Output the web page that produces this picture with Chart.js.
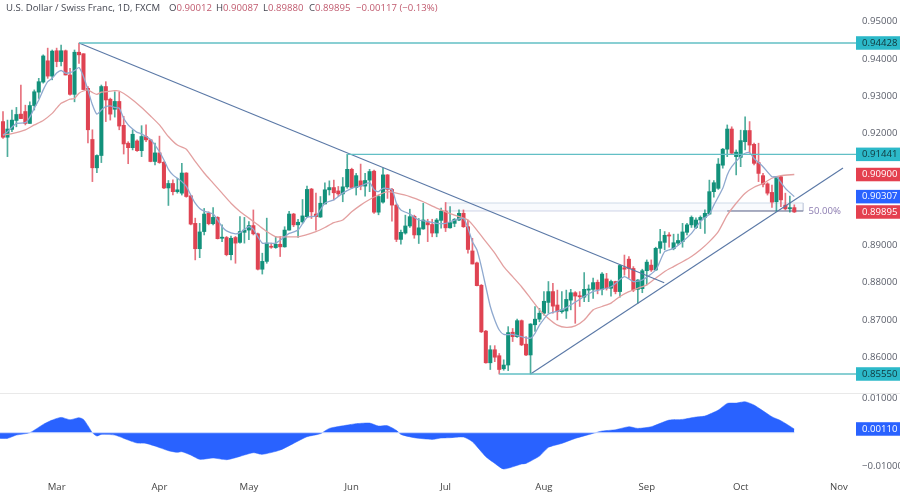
<!DOCTYPE html>
<html>
<head>
<meta charset="utf-8">
<style>
  html, body { margin: 0; background: #fff; overflow: hidden; }
  #wrap { position: relative; width: 900px; height: 496px; font-family: "Open Sans", sans-serif; }
  canvas { position: absolute; left: 0; }
  #priceChart { top: 0; }
  #oscChart { top: 393px; }
  #sep { position: absolute; left: 0; top: 393px; width: 900px; height: 1px; background: #e9e9e9; }
  .hdr { position: absolute; top: 1px; font-size: 9.6px; line-height: 14px; color: #434651; white-space: nowrap; }
  .hdr b { font-weight: 400; color: #c05a6e; }
</style>
</head>
<body>
<div id="wrap">
  <canvas id="priceChart" width="900" height="393"></canvas>
  <canvas id="oscChart" width="900" height="103"></canvas>
  <div id="sep"></div>
  <div class="hdr" style="left:6px">U.S. Dollar / Swiss Franc, 1D, FXCM</div>
  <div class="hdr" style="left:169px">O<b>0.90012</b></div>
  <div class="hdr" style="left:216px">H<b>0.90087</b></div>
  <div class="hdr" style="left:263px">L<b>0.89880</b></div>
  <div class="hdr" style="left:309px">C<b>0.89895</b></div>
  <div class="hdr" style="left:356px"><b>−0.00117 (−0.13%)</b></div>
</div>
<script src="https://cdn.jsdelivr.net/npm/chart.js@4/dist/chart.umd.min.js"></script>
<script>
const opens = [
  .9232,.9190,.9211,.9235,.9252,.9259,.9227,.9275,.9311,.9338,
  .9395,.9354,.9422,.9393,.9422,.9357,.9305,.9418,.9414,.9321,
  .9184,.9108,.9141,.9326,.9292,.9265,.9286,.9222,.9174,.9162,
  .9180,.9154,.9192,.9183,.9125,.9148,.9123,.9054,.9066,.9044,
  .9040,.9094,.9033,.8959,.8891,.8937,.8986,.8958,.8975,.8919,
  .8921,.8875,.8921,.8908,.8935,.8941,.8953,.8931,.8836,.8857,
  .8897,.8894,.8903,.8896,.8941,.8984,.8955,.8963,.8977,.9051,
  .8984,.8976,.9011,.9049,.9055,.9046,.9038,.9057,.9104,.9055,
  .9073,.9059,.9075,.9099,.8989,.9016,.9089,.9050,.9008,.8916,
  .8933,.8952,.8978,.8928,.8944,.8961,.8956,.8933,.8967,.8992,
  .8947,.8959,.8968,.8986,.8950,.8885,.8853,.8793,.8670,.8585,
  .8620,.8604,.8569,.8579,.8667,.8655,.8698,.8635,.8606,.8687,
  .8702,.8718,.8747,.8776,.8740,.8722,.8724,.8753,.8773,.8765,
  .8761,.8780,.8782,.8801,.8782,.8810,.8785,.8803,.8776,.8840,
  .8863,.8838,.8782,.8784,.8832,.8847,.8834,.8892,.8908,.8928,
  .8891,.8906,.8910,.8935,.8955,.8948,.8968,.8975,.8984,.9044,
  .9053,.9115,.9158,.9212,.9138,.9136,.9178,.9208,.9171,.9122,
  .9087,.9065,.9042,.9017,.9084,.9008,.8998,.90012
];
const highs = [
  .9259,.9236,.9263,.9270,.9330,.9276,.9285,.9317,.9348,.9411,
  .9429,.9424,.9429,.9437,.9424,.9375,.9424,.94428,.9414,.9326,
  .9210,.9143,.9330,.9339,.9295,.9312,.9312,.9246,.9178,.9210,
  .9183,.9221,.9223,.9183,.9174,.9193,.9125,.9074,.9076,.9080,
  .9120,.9095,.9033,.8973,.8959,.8999,.8990,.9001,.8977,.8955,
  .8924,.8925,.8924,.8977,.8975,.8964,.8995,.8933,.8879,.8973,
  .8906,.8924,.8924,.8950,.8991,.8986,.8970,.9023,.9059,.9053,
  .9040,.9031,.9068,.9073,.9075,.9058,.9082,.91441,.9107,.9093,
  .9118,.9093,.9104,.9102,.9035,.9107,.9090,.9053,.9011,.8941,
  .8981,.8997,.8981,.8972,.9013,.8970,.8970,.8972,.9000,.9015,
  .9004,.8972,.8995,.8995,.8968,.8919,.8855,.8795,.8672,.8631,
  .8631,.8610,.8593,.8682,.8677,.8702,.8700,.8655,.8690,.8736,
  .8731,.8776,.8803,.8798,.8780,.8776,.8780,.8782,.8776,.8776,
  .8827,.8794,.8812,.8807,.8827,.8825,.8807,.8804,.8847,.8874,
  .8870,.8843,.8808,.8836,.8861,.8861,.8895,.8943,.8937,.8934,
  .8930,.8930,.8959,.8959,.8979,.8974,.8979,.8995,.9075,.9074,
  .9133,.9160,.9223,.9218,.9156,.9209,.9245,.9232,.9174,.9174,
  .9093,.9068,.9062,.9084,.9086,.9040,.9032,.90087
];
const lows = [
  .9187,.9138,.9205,.9218,.9240,.9223,.9227,.9263,.9294,.9335,
  .9348,.9344,.9379,.9381,.9357,.9303,.9285,.9388,.9317,.9175,
  .9071,.9095,.9122,.9232,.9236,.9244,.9210,.9145,.9119,.9156,
  .9152,.9138,.9178,.9124,.9116,.9120,.9052,.9007,.9035,.9040,
  .9035,.9029,.8955,.8861,.8867,.8928,.8955,.8955,.8917,.8910,
  .8872,.8861,.8852,.8906,.8906,.8915,.8928,.8834,.8823,.8852,
  .8892,.8892,.8870,.8895,.8941,.8950,.8921,.8959,.8975,.8972,
  .8941,.8975,.9011,.9035,.9022,.9031,.9017,.9053,.9052,.9035,
  .9049,.9032,.9044,.8986,.8982,.9013,.9026,.8965,.8910,.8903,
  .8930,.8948,.8919,.8905,.8943,.8910,.8923,.8923,.8946,.8937,
  .8946,.8950,.8966,.8948,.8879,.8850,.8791,.8666,.8584,.8567,
  .8588,.8555,.8565,.8564,.8642,.8653,.8631,.8604,.8555,.8669,
  .8695,.8713,.8718,.8718,.8700,.8718,.8704,.8727,.8691,.8736,
  .8749,.8749,.8758,.8770,.8767,.8780,.8764,.8770,.8761,.8820,
  .8812,.8776,.8745,.8773,.8794,.8830,.8832,.8879,.8888,.8895,
  .8888,.8901,.8895,.8928,.8948,.8945,.8945,.8932,.8982,.9029,
  .9050,.9107,.9138,.9144,.9089,.9111,.9156,.9147,.9116,.9071,
  .9057,.9035,.9002,.8991,.9004,.8995,.8989,.8988
];
const closes = [
  .9190,.9212,.9236,.9251,.9240,.9227,.9275,.9312,.9339,.9408,
  .9354,.9421,.9393,.9422,.9357,.9305,.9418,.9411,.9318,.9210,
  .9108,.9141,.9326,.9290,.9252,.9286,.9220,.9172,.9162,.9198,
  .9154,.9192,.9183,.9125,.9148,.9122,.9054,.9066,.9044,.9049,
  .9094,.9031,.8957,.8891,.8936,.8984,.8958,.8975,.8918,.8922,
  .8875,.8919,.8906,.8937,.8941,.8953,.8931,.8836,.8857,.8906,
  .8895,.8903,.8896,.8941,.8984,.8955,.8962,.8979,.9050,.8990,
  .8977,.9013,.9049,.9055,.9041,.9038,.9057,.9104,.9055,.9087,
  .9059,.9074,.9098,.8989,.9031,.9089,.9050,.9008,.8916,.8935,
  .8952,.8977,.8928,.8947,.8968,.8955,.8933,.8968,.8992,.8947,
  .8961,.8970,.8986,.8950,.8889,.8850,.8792,.8668,.8585,.8620,
  .8600,.8567,.8579,.8666,.8655,.8698,.8633,.8606,.8689,.8702,
  .8718,.8750,.8776,.8737,.8722,.8727,.8755,.8773,.8764,.8762,
  .8782,.8783,.8800,.8782,.8823,.8785,.8803,.8776,.8846,.8836,
  .8838,.8780,.8807,.8832,.8855,.8834,.8892,.8910,.8927,.8925,
  .8907,.8913,.8936,.8955,.8975,.8968,.8975,.8986,.9044,.9068,
  .9118,.9158,.9212,.9147,.9150,.9181,.9208,.9169,.9120,.9093,
  .9064,.9040,.9016,.9084,.9022,.8998,.90012,.89895
];

// moving averages, read at the bars listed
const fastBars = [0,1,3,5,6,7,8,9,10,11,12,13,14,15,16,17,18,19,20,21,22,23,24,25,26,27,28,29,30,31,32,33,34,35,36,37,38,39,40,41,42,43,44,45,47,48,49,50,52,53,55,56,57,58,59,61,63,64,66,68,70,72,74,76,78,80,82,83,84,85,87,88,89,91,93,95,97,99,101,103,104,105,106,107,108,109,110,111,112,114,116,118,119,120,122,125,127,130,132,136,139,141,143,146,148,150,152,154,156,158,159,161,162,163,165,166,167,168,170,172,173,175,177];
const fastValues = [.9196,.9205,.9227,.9229,.9244,.9268,.9290,.9317,.9339,.9348,.9362,.9369,.9362,.9363,.9369,.9377,.9353,.9317,.9277,.9252,.9263,.9272,.9274,.9270,.9268,.9241,.9223,.9212,.9203,.9199,.9192,.9184,.9169,.9151,.9129,.9104,.9089,.9080,.9071,.9058,.9035,.9013,.8999,.8992,.8984,.8968,.8950,.8939,.8931,.8934,.8950,.8943,.8923,.8906,.8906,.8906,.8923,.8932,.8941,.8975,.8979,.9013,.9022,.9040,.9053,.9059,.9068,.9049,.9044,.9053,.9049,.9013,.8995,.8984,.8968,.8964,.8959,.8959,.8968,.8972,.8946,.8910,.8888,.8843,.8789,.8736,.8700,.8673,.8661,.8661,.8655,.8651,.8664,.8686,.8716,.8727,.8740,.8763,.8776,.8789,.8816,.8803,.8807,.8834,.8883,.8892,.8910,.8932,.8964,.8984,.9008,.9053,.9089,.9111,.9138,.9147,.9149,.9133,.9111,.9084,.9084,.9053,.90307];
const slowBars = [0,2,5,7,9,11,12,13,14,15,16,17,18,19,20,21,22,23,25,26,28,31,33,35,37,39,41,43,45,47,49,51,53,55,57,59,61,63,66,70,72,74,76,78,80,82,84,86,88,91,94,97,101,104,106,108,110,112,114,116,118,120,122,124,126,128,130,132,134,136,138,140,142,144,146,148,150,152,154,156,158,160,162,164,166,168,170,172,174,177];
const slowValues = [.9196,.9200,.9210,.9223,.9235,.9254,.9268,.9281,.9287,.9292,.9294,.9308,.9314,.9317,.9310,.9305,.9311,.9312,.9315,.9314,.9299,.9270,.9247,.9223,.9192,.9169,.9158,.9125,.9094,.9067,.9040,.9013,.8991,.8973,.8955,.8937,.8923,.8923,.8923,.8937,.8948,.8961,.8968,.8990,.9008,.9023,.9035,.9044,.9040,.9031,.9017,.9000,.8981,.8968,.8941,.8910,.8879,.8843,.8816,.8789,.8758,.8727,.8704,.8686,.8680,.8684,.8700,.8727,.8736,.8745,.8763,.8776,.8785,.8794,.8812,.8830,.8843,.8856,.8870,.8888,.8910,.8937,.8981,.9013,.9040,.9056,.9066,.9080,.9087,.9090];

// oscillator pane
const oscBars = [-1,1,3,6,9,11,13,15,17,18,19,20,21,22,25,28,30,32,34,37,39,40,42,44,47,50,52,56,58,62,65,68,71,73,77,79,82,84,86,88,89,92,96,98,100,103,105,108,110,112,116,117,120,122,125,128,132,134,137,140,142,145,149,152,155,157,160,162,164,166,168,172,174,177];
const oscValues = [-.00167,-.00167,-.00069,0,.00245,.00372,.00451,.00382,.00441,.00392,.00206,0,-.00098,-.00049,-.00069,-.00216,-.00304,-.00314,-.00392,-.00529,-.00578,-.00559,-.00657,-.00784,-.00745,-.00794,-.00735,-.00588,-.00637,-.0051,-.00314,-.00118,-.00029,.00127,.00225,.00265,.00284,.00196,.00206,.00069,-.00049,-.00147,-.00196,-.00157,-.00147,-.00127,-.00265,-.00706,-.00902,-.01068,-.00921,-.00902,-.00686,-.00431,-.00314,-.00167,-.0002,.00049,.00088,.00176,.00127,.00176,.00372,.00392,.00461,.0049,.00666,.00862,.00872,.00911,.00813,.0047,.00353,.0011];

// drawn levels and lines, [bar, price] at each end
const resistanceHigh = [[17,.94428],[190.8,.94428]];
const resistanceMid = [[77,.91441],[190.8,.91441]];
const supportLow = [[111,.8555],[190.8,.8555]];
const downTrend = [[17,.94428],[147.9,.8800]];
const upTrend = [[118,.8555],[187.9,.91075]];
const retraceTop = [[99,.90136],[179,.90136]];
const retraceBottom = [[99,.89922],[179,.89922]];
const retraceEdge = [[179,.90136],[179,.89922]];
const retraceMid = [[162,.89922],[179,.89922]];

const monthBars = [12,35,55,78,99,121,144,165,187];
const monthNames = ['Mar','Apr','May','Jun','Jul','Aug','Sep','Oct','Nov'];

const priceTicks = [.95,.94,.93,.92,.89,.88,.87,.86];
const tealTags = [.94428,.91441,.8555];
const redTags = [.909,.89895];
const blueTags = [.90307];
const oscTicks = [.01,-.01];
const oscTag = .0011;

const GREEN = '#12917b', RED = '#df4352', TEAL = '#62bfc5', NAVY = '#5a78a6';
const TEAL_TAG = '#2cb9c9', RED_TAG = '#e4404f', BLUE_TAG = '#2962ff';
const TICK_COLOR = '#595d69';
const FONT = { family: '"Open Sans", sans-serif', size: 9.6 };
const X_MIN = -0.67, X_MAX = 190.8;

const toPoints = pairs => pairs.map(([x, y]) => ({ x, y }));
const zip = (xs, ys) => xs.map((x, i) => ({ x, y: ys[i] }));

function lineSet(data, color, width, order, extra) {
  return Object.assign({
    type: 'line', data, borderColor: color, borderWidth: width, pointRadius: 0,
    tension: 0, fill: false, order
  }, extra || {});
}

function candleColors() {
  return closes.map((c, i) => c >= opens[i] ? GREEN : RED);
}

function tagColor(v) {
  if (tealTags.includes(v)) return TEAL_TAG;
  if (redTags.includes(v)) return RED_TAG;
  if (blueTags.includes(v)) return BLUE_TAG;
  if (v === oscTag) return BLUE_TAG;
  return null;
}

function fixedTicks(scale, values) {
  scale.ticks = values.map(value => ({ value }));
}

// the tag labels hang over the plot edges, so no inset for them
function fitPriceAxis(scale) {
  scale.width = 44;
  scale.paddingTop = 0;
  scale.paddingBottom = 0;
}

const yTickOpts = {
  font: FONT,
  padding: 6,
  autoSkip: false,
  showLabelBackdrop: ctx => !!tagColor(ctx.tick.value),
  backdropColor: ctx => tagColor(ctx.tick.value) || 'transparent',
  backdropPadding: { left: 6, right: 8, top: 1, bottom: 1 },
  color: ctx => {
    const v = ctx.tick.value;
    if (tealTags.includes(v)) return '#10353a';
    return tagColor(v) ? '#fff' : TICK_COLOR;
  },
  callback: v => v < 0 ? '−' + Math.abs(v).toFixed(5) : v.toFixed(5)
};

// label next to the 50% line of the retracement
const fibLabel = {
  id: 'fibLabel',
  afterDatasetsDraw(chart) {
    const { ctx, scales } = chart;
    ctx.save();
    ctx.font = '9.6px "Open Sans", sans-serif';
    ctx.fillStyle = '#8b7bb0';
    ctx.textBaseline = 'middle';
    ctx.fillText('50.00%', scales.x.getPixelForValue(180.2), scales.y.getPixelForValue(.89922));
    ctx.restore();
  }
};

const colors = candleColors();

new Chart(document.getElementById('priceChart'), {
  type: 'bar',
  plugins: [fibLabel],
  data: {
    datasets: [
      lineSet(toPoints(resistanceHigh), TEAL, 1.4, 1),
      lineSet(toPoints(resistanceMid), TEAL, 1.4, 1),
      lineSet(toPoints(supportLow), TEAL, 1.4, 1),
      lineSet(toPoints(downTrend), NAVY, 1.1, 1),
      lineSet(toPoints(upTrend), NAVY, 1.1, 1),
      lineSet(zip(fastBars, fastValues), '#8fa9cf', 1.3, 2, { tension: 0.2 }),
      lineSet(zip(slowBars, slowValues), '#e3a0a0', 1.3, 2, { tension: 0.2 }),
      {
        type: 'bar', grouped: false, barThickness: 3.4, order: 3,
        data: opens.map((o, i) => ({ x: i, y: [o, closes[i]] })),
        backgroundColor: colors, borderWidth: 0, minBarLength: 1
      },
      {
        type: 'bar', grouped: false, barThickness: 1, order: 4,
        data: lows.map((l, i) => ({ x: i, y: [l, highs[i]] })),
        backgroundColor: colors.map(c => c + 'c0'), borderWidth: 0
      },
      lineSet(toPoints(retraceMid), '#6a6f8e', 1, 5),
      lineSet(toPoints(retraceEdge), '#cfd6e4', 1, 5),
      lineSet(toPoints(retraceTop), '#cfdbe8', 1, 6, { fill: '+1', backgroundColor: 'rgba(190,210,235,.1)' }),
      lineSet(toPoints(retraceBottom), '#cfd3e6', 1, 6)
    ]
  },
  options: {
    responsive: false,
    animation: false,
    events: [],
    layout: { padding: 0 },
    plugins: { legend: { display: false }, tooltip: { enabled: false } },
    scales: {
      x: { type: 'linear', min: X_MIN, max: X_MAX, offset: false, display: false, grid: { display: false } },
      y: {
        position: 'right', min: .8504, max: .95581,
        grid: { display: false, drawTicks: false }, border: { display: false },
        afterFit: fitPriceAxis,
        afterBuildTicks: s => fixedTicks(s, priceTicks.concat(tealTags, redTags, blueTags)),
        ticks: yTickOpts
      }
    }
  }
});

new Chart(document.getElementById('oscChart'), {
  type: 'line',
  data: {
    datasets: [
      lineSet([{ x: -1, y: 0 }, { x: 177, y: 0 }], '#cddcff', 1, 1),
      lineSet(zip(oscBars, oscValues), '#2962ff', 0.5, 2, { fill: 'origin', backgroundColor: '#2962ff', tension: 0.2 })
    ]
  },
  options: {
    responsive: false,
    animation: false,
    events: [],
    layout: { padding: 0 },
    plugins: { legend: { display: false }, tooltip: { enabled: false } },
    scales: {
      x: {
        type: 'linear', min: X_MIN, max: X_MAX,
        grid: { display: false, drawTicks: false }, border: { display: false },
        afterFit: s => { s.height = 18; s.paddingLeft = 0; s.paddingRight = 0; },
        afterBuildTicks: s => fixedTicks(s, monthBars),
        ticks: {
          font: FONT, color: '#444', padding: 4, autoSkip: false, maxRotation: 0,
          callback: v => monthNames[monthBars.indexOf(v)]
        }
      },
      y: {
        position: 'right', min: -.01332, max: .01168,
        grid: { display: false, drawTicks: false }, border: { display: false },
        afterFit: fitPriceAxis,
        afterBuildTicks: s => fixedTicks(s, oscTicks.concat(oscTag)),
        ticks: yTickOpts
      }
    }
  }
});
</script>
</body>
</html>
